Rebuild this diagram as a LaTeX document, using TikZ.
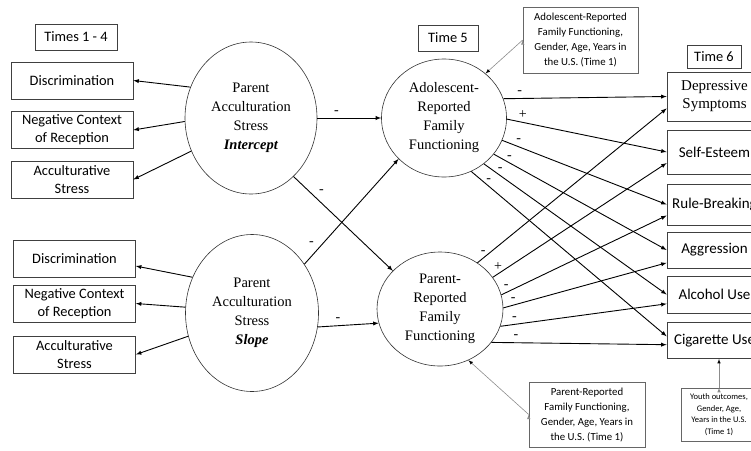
\documentclass[tikz,border=0pt]{standalone}
\usepackage{fontspec}
\setmainfont{Liberation Serif}
\setsansfont{Carlito}
\usetikzlibrary{shapes.geometric}

\begin{document}
\begin{tikzpicture}[x=1pt,y=-1pt,>=latex,
  plainbox/.style={draw=black!75,line width=0.7pt,align=center,inner sep=2pt,font=\sffamily\fontsize{14.4}{18}\selectfont},
  indbox/.style={plainbox,minimum width=122pt,minimum height=37pt},
  outbox/.style={plainbox,minimum width=95pt,font=\sffamily\fontsize{15}{19}\selectfont},
  latent/.style={ellipse,draw=black!80,line width=0.6pt,align=center,inner sep=0pt,font=\fontsize{14.5}{19}\selectfont},
  covbox/.style={draw=black!60,line width=0.6pt,align=center,font=\sffamily\fontsize{10.8}{15}\selectfont},
  reg/.style={->,line width=0.9pt},
  covarrow/.style={->,draw=black!45,line width=0.6pt},
  signlbl/.style={font=\fontsize{14}{14}\selectfont}]
\useasboundingbox (0,0) rectangle (751,450);
\clip (0,0) rectangle (751,450);

% indicators
\node[plainbox,minimum width=82pt,minimum height=26pt] (t14) at (76,37) {Times 1 - 4};
\node[indbox] (disc1) at (72,80.5) {Discrimination};
\node[indbox] (ncr1) at (72,130) {Negative Context\\of Reception};
\node[indbox] (acs1) at (72,179.5) {Acculturative\\Stress};
\node[indbox] (disc2) at (74.5,258.5) {Discrimination};
\node[indbox] (ncr2) at (74.5,303.5) {Negative Context\\of Reception};
\node[indbox] (acs2) at (74.5,354.5) {Acculturative\\Stress};

% latent growth factors
\node[latent,minimum width=132pt,minimum height=152pt] (icpt) at (251,118) {Parent\\Acculturation\\Stress\\\textbf{\textit{Intercept}}};
\node[latent,minimum width=133pt,minimum height=157pt] (slope) at (252,313) {Parent\\Acculturation\\Stress\\\textbf{\textit{Slope}}};

% family functioning
\node[plainbox,minimum width=60pt,minimum height=26pt] (t5) at (448,38) {Time 5};
\node[latent,minimum width=125pt,minimum height=118pt] (adol) at (444,118) {Adolescent-\\Reported\\Family\\Functioning};
\node[latent,minimum width=126pt,minimum height=114pt] (par) at (440,309) {Parent-\\Reported\\Family\\Functioning};
\node[covbox,minimum width=115pt,minimum height=66pt] (adolcov) at (580.5,40) {Adolescent-Reported\\Family Functioning,\\Gender, Age, Years in\\the U.S. (Time 1)};
\node[covbox,minimum width=116pt,minimum height=65pt] (parcov) at (587,414.5) {Parent-Reported\\Family Functioning,\\Gender, Age, Years in\\the U.S. (Time 1)};

% outcomes
\node[plainbox,minimum width=54pt,minimum height=23pt] (t6) at (714,57) {Time 6};
\node[outbox,minimum height=49pt,font=\fontsize{15}{18}\selectfont] (dep) at (714.5,96.5) {Depressive\\Symptoms};
\node[outbox,minimum height=44pt] (self) at (714.5,152) {Self-Esteem};
\node[outbox,minimum height=41pt] (rule) at (714.5,204.5) {Rule-Breaking};
\node[outbox,minimum height=36pt] (agg) at (714.5,250) {Aggression};
\node[outbox,minimum height=37pt] (alc) at (714.5,294.5) {Alcohol Use};
\node[outbox,minimum height=36pt] (cig) at (714.5,340.5) {Cigarette Use};
\node[covbox,minimum width=76pt,minimum height=53pt,inner sep=1pt,font=\sffamily\fontsize{8.5}{11.7}\selectfont] (youth) at (719,414.5) {Youth outcomes,\\Gender, Age,\\Years in the U.S.\\(Time 1)};

% measurement paths
\path [reg] (icpt.153) edge (disc1.east);
\path [reg] (icpt.183) edge (ncr1.east);
\path [reg] (icpt.209) edge (acs1.east);
\path [reg] (slope.149) edge (disc2.-7);
\path [reg] (slope.175) edge (ncr2.east);
\path [reg] (slope.200) edge (acs2.east);

% growth factors -> family functioning
\path [reg] (icpt.east) edge node[signlbl,pos=.3,above] {-} (adol.west);
\path [reg] (icpt.-54) edge node[signlbl,pos=.22,above right] {-} (par.141);
\path [reg] (slope.43) edge node[signlbl,pos=.14,above left] {-} (adol.222);
\path [reg] (slope.-12) edge node[signlbl,pos=.33,above] {-} (par.193);

% adolescent-reported -> outcomes
\path [reg] (adol.18) edge node[signlbl,pos=.1,above] {-} (dep.west);
\path [reg] (adol.-1) edge node[signlbl,pos=.1,above] {+} (self.west);
\path [reg] (adol.-21) edge node[signlbl,pos=.1,above] {-} (rule.west);
\path [reg] (adol.-36) edge node[signlbl,pos=.09,above] {-} (agg.west);
\path [reg] (adol.-49) edge node[signlbl,pos=.09,above] {-} (alc.west);
\path [reg] (adol.-63) edge node[signlbl,pos=.09,above] {-} (cig.175);

% parent-reported -> outcomes
\path [reg] (par.51) edge node[signlbl,pos=.03,above] {-} (dep.194);
\path [reg] (par.31) edge node[signlbl,pos=.03,above] {+} (self.193);
\path [reg] (par.13) edge node[signlbl,pos=.03,above] {-} (rule.193);
\path [reg] (par.1) edge node[signlbl,pos=.06,above] {-} (agg.195);
\path [reg] (par.-16) edge node[signlbl,pos=.085,above] {-} (alc.191);
\path [reg] (par.-33) edge node[signlbl,pos=.14,above] {-} (cig.185);

% covariates
\path [covarrow] (adolcov.west) edge (adol.47);
\path [covarrow] (parcov.west) edge (par.-61);
\path [covarrow] (youth.north) edge (youth.north |- cig.south);
\end{tikzpicture}
\end{document}
